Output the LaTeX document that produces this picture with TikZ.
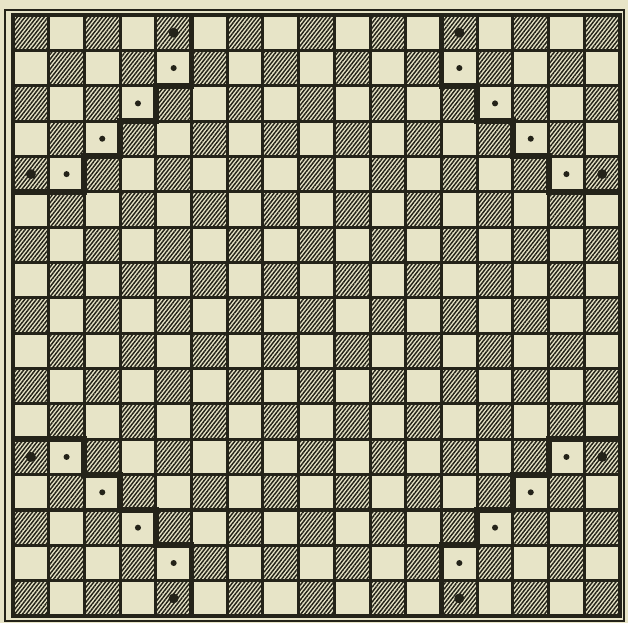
\documentclass[tikz,border=0pt]{standalone}
\usetikzlibrary{patterns.meta}
\definecolor{paper}{RGB}{231,228,199}
\definecolor{ink}{RGB}{36,35,25}
\tikzset{
  hatchcell/.style={pattern={Lines[angle=52,distance=2.6pt,line width=1.25pt]},pattern color=ink},
  gridline/.style={draw=ink,line width=2.6pt},
  boardedge/.style={draw=ink,line width=3pt},
  outerframe/.style={draw=ink,line width=1.2pt},
  stair/.style={draw=ink,line width=5pt,line cap=butt,line join=miter},
  smalldot/.style={fill=ink},
  bigdot/.style={fill=ink}
}
\begin{document}
\begin{tikzpicture}[x=1.071cm,y=-1.0605cm]
\fill[paper] (-0.364,-0.424) rectangle (17.224,17.198);
\useasboundingbox (-0.364,-0.424) rectangle (17.224,17.198);
% hatched squares
\foreach \r in {0,...,16}{
  \foreach \c in {0,...,16}{
    \pgfmathtruncatemacro\p{mod(\r+\c,2)}
    \ifnum\p=0
      \fill[hatchcell] (\c,\r) rectangle ++(1,1);
    \fi
  }
}
% grid
\foreach \i in {1,...,16}{
  \draw[gridline] (\i,0) -- (\i,17);
  \draw[gridline] (0,\i) -- (17,\i);
}
\draw[boardedge] (0,0) rectangle (17,17);
\draw[outerframe] (-0.224,-0.141) rectangle (17.115,17.14);
% staircases
\draw[stair] (0,5) -- (2,5) -- (2,4) -- (3,4) -- (3,3) -- (4,3) -- (4,2) -- (5,2) -- (5,0);
\draw[stair] (17,5) -- (15,5) -- (15,4) -- (14,4) -- (14,3) -- (13,3) -- (13,2) -- (12,2) -- (12,0);
\draw[stair] (0,12) -- (2,12) -- (2,13) -- (3,13) -- (3,14) -- (4,14) -- (4,15) -- (5,15) -- (5,17);
\draw[stair] (17,12) -- (15,12) -- (15,13) -- (14,13) -- (14,14) -- (13,14) -- (13,15) -- (12,15) -- (12,17);
% small dots on white squares (col,row)
\foreach \c/\r in {4/1,3/2,2/3,1/4, 12/1,13/2,14/3,15/4, 1/12,2/13,3/14,4/15, 15/12,14/13,13/14,12/15}{
  \fill[smalldot] (\c+0.5,\r+0.5) circle (0.085);
}
% large dots on hatched squares
\foreach \c/\r in {4/0,0/4,12/0,16/4,0/12,4/16,16/12,12/16}{
  \fill[bigdot] (\c+0.5,\r+0.5) circle (0.14);
}
\end{tikzpicture}
\end{document}
